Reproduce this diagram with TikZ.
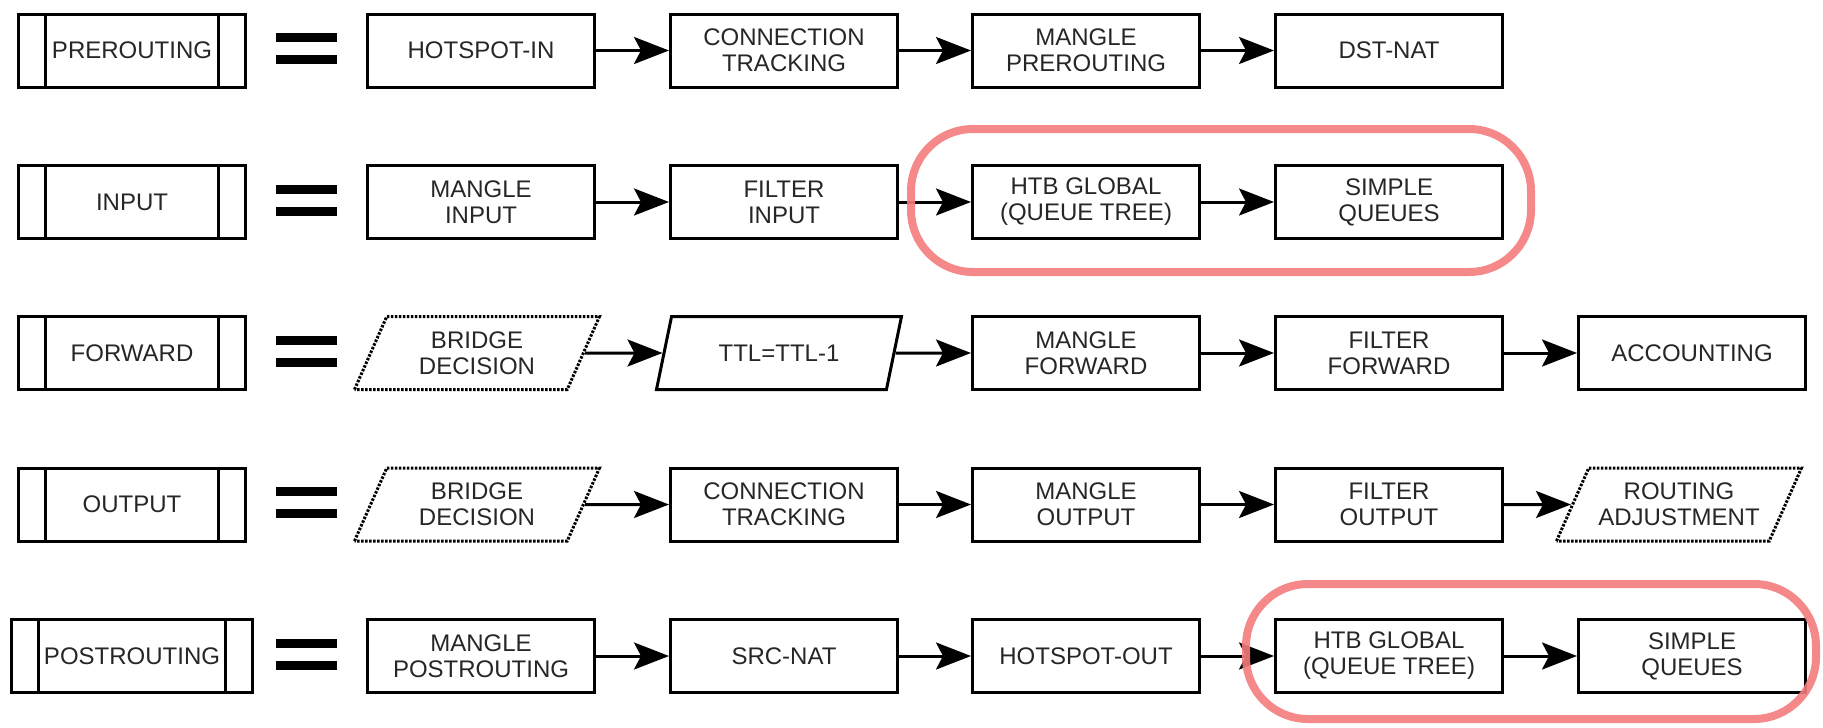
\documentclass[tikz,border=0pt]{standalone}
\usepackage{fontspec}
\setmainfont{Liberation Sans}
\usepackage{tikz}
\usetikzlibrary{shapes.geometric,arrows.meta}
\definecolor{markred}{RGB}{244,124,124}

\begin{document}
\begin{tikzpicture}[x=1pt,y=-1pt,line width=3pt,>={Stealth[length=35pt,width=27pt,inset=7pt]},
        box/.style={rectangle,draw,minimum width=227pt,minimum height=73pt,align=center,
            text=black!85,font=\fontsize{24}{26}\selectfont},
        hook/.style={box,path picture={
            \draw[line width=3pt] ([xshift=27pt]path picture bounding box.north west) -- ([xshift=27pt]path picture bounding box.south west);
            \draw[line width=3pt] ([xshift=-27pt]path picture bounding box.north east) -- ([xshift=-27pt]path picture bounding box.south east);}},
        slant/.style={box,trapezium,trapezium left angle=57,trapezium right angle=123,
            trapezium stretches body,minimum width=245pt},
        guess/.style={slant,dash pattern=on 2.5pt off 1.5pt},
        equal/.style={line width=9pt},
        halo/.style={draw=markred,line width=8pt,rounded corners=62pt,opacity=0.9}]

    \useasboundingbox (0,0) rectangle (1823,728);

    % chain names
    \node[hook] (pre) at (132,50.5) {PREROUTING};
    \node[hook] (in) at (132,202) {INPUT};
    \node[hook] (fwd) at (132,353) {FORWARD};
    \node[hook] (out) at (132,504.5) {OUTPUT};
    \node[hook, minimum width=241pt] (post) at (132,656) {POSTROUTING};

    % equals signs
    \draw[equal] (276,37.5) -- (337,37.5) (276,59.5) -- (337,59.5);
    \draw[equal] (276,189) -- (337,189) (276,211) -- (337,211);
    \draw[equal] (276,340) -- (337,340) (276,362) -- (337,362);
    \draw[equal] (276,491.5) -- (337,491.5) (276,513.5) -- (337,513.5);
    \draw[equal] (276,643) -- (337,643) (276,665) -- (337,665);

    % prerouting
    \node[box] (pre1) at (481,50.5) {HOTSPOT-IN};
    \node[box] (pre2) at (784,50.5) {CONNECTION\\TRACKING};
    \node[box] (pre3) at (1086,50.5) {MANGLE\\PREROUTING};
    \node[box] (pre4) at (1389,50.5) {DST-NAT};

    % input
    \node[box] (in1) at (481,202) {MANGLE\\INPUT};
    \node[box] (in2) at (784,202) {FILTER\\INPUT};
    \node[box] (in3) at (1086,202) {HTB GLOBAL\\(QUEUE TREE)};
    \node[box] (in4) at (1389,202) {SIMPLE\\QUEUES};

    % forward
    \node[guess] (fwd1) at (477,353) {BRIDGE\\DECISION};
    \node[slant] (fwd2) at (779,353) {TTL=TTL-1};
    \node[box] (fwd3) at (1086,353) {MANGLE\\FORWARD};
    \node[box] (fwd4) at (1389,353) {FILTER\\FORWARD};
    \node[box] (fwd5) at (1692,353) {ACCOUNTING};

    % output
    \node[guess] (out1) at (477,504.5) {BRIDGE\\DECISION};
    \node[box] (out2) at (784,504.5) {CONNECTION\\TRACKING};
    \node[box] (out3) at (1086,504.5) {MANGLE\\OUTPUT};
    \node[box] (out4) at (1389,504.5) {FILTER\\OUTPUT};
    \node[guess] (out5) at (1679,504.5) {ROUTING\\ADJUSTMENT};

    % postrouting
    \node[box] (post1) at (481,656) {MANGLE\\POSTROUTING};
    \node[box] (post2) at (784,656) {SRC-NAT};
    \node[box] (post3) at (1086,656) {HOTSPOT-OUT};
    \node[box] (post4) at (1389,656) {HTB GLOBAL\\(QUEUE TREE)};
    \node[box] (post5) at (1692,656) {SIMPLE\\QUEUES};

    \path[->]
    (pre1) edge (pre2) (pre2) edge (pre3) (pre3) edge (pre4)
    (in1) edge (in2) (in2) edge (in3) (in3) edge (in4)
    (fwd1) edge (fwd2) (fwd2) edge (fwd3) (fwd3) edge (fwd4) (fwd4) edge (fwd5)
    (out1) edge (out2) (out2) edge (out3) (out3) edge (out4) (out4) edge (out5)
    (post1) edge (post2) (post2) edge (post3) (post3) edge (post4) (post4) edge (post5);

    % queue highlights
    \draw[halo] (911,129) rectangle (1531,272);
    \draw[halo] (1246,584) rectangle (1816,719);

\end{tikzpicture}
\end{document}
